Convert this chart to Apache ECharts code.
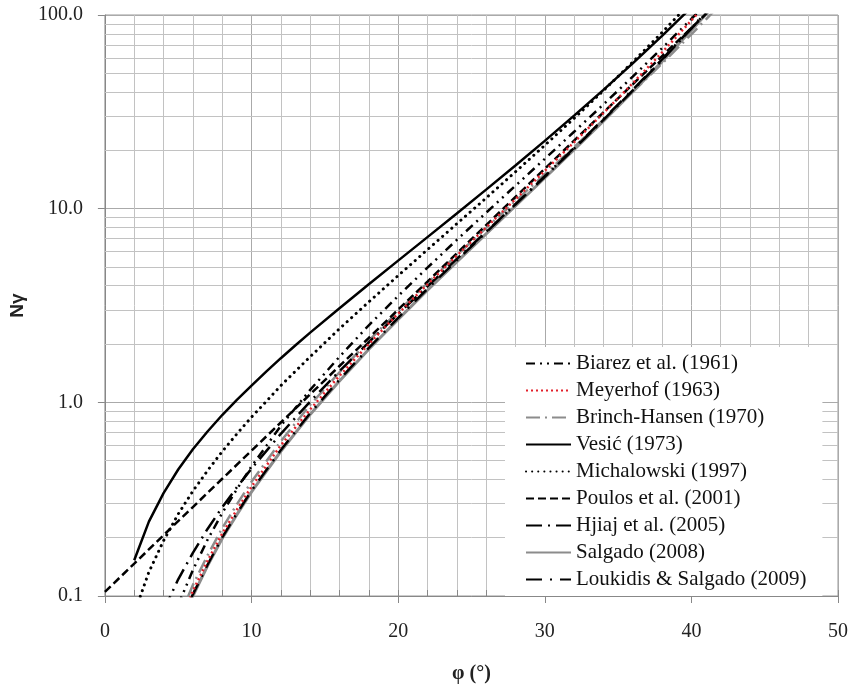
<!DOCTYPE html>
<html><head><meta charset="utf-8">
<script src="https://cdn.jsdelivr.net/npm/echarts@6/dist/echarts.min.js"></script>
<style>html,body{margin:0;padding:0;background:#fff}#c{width:851px;height:690px}</style>
</head><body><div id="c"></div><script>
// phi (degrees) grids
const phiA = [2,3,4,5,6,7,8,9,10,11,12,13,14,16,18,20,22,24,26,28,30,32,34,36,38,40];
const phiB = [5,6,7,8,9,10,12,14,16,18,20,22,24,26,28,30,32,34,36,38,40,41,42];
const phiH = [4,5,6,7,8,9,10,12,14,16,18,20,22,24,26,28,30,32,34,36,38,40,41];
const phiP = [0,2,4,6,8,10,12,14,16,18,20,22,24,26,28,30,32,34,36,38,40,42];

// N-gamma values
const vesic = [0.153,0.242,0.340,0.450,0.572,0.707,0.860,1.03,1.22,1.44,1.69,1.97,2.29,3.06,4.07,5.39,7.13,9.44,12.54,16.72,22.40,30.22,41.06,56.31,78.03,109.4];
const michalowski = [0.081,0.133,0.193,0.265,0.348,0.444,0.557,0.687,0.839,1.01,1.22,1.45,1.72,2.40,3.30,4.51,6.14,8.35,11.35,15.49,21.23,29.27,40.70,57.17,81.28,117.2];
const biarez = [0.090,0.136,0.195,0.268,0.356,0.467,0.756,1.16,1.72,2.50,3.54,4.96,6.90,9.53,13.13,18.08,24.95,34.52,48.06,67.40,95.45,114.1,136.7];
const meyerhof = [0.070,0.106,0.152,0.210,0.279,0.367,0.60,0.92,1.37,2.00,2.87,4.07,5.72,8.00,11.19,15.67,22.02,31.15,44.43,64.08,93.69,114.0,139.3];
const brinchHansen = [0.075,0.114,0.162,0.224,0.297,0.389,0.63,0.97,1.43,2.08,2.95,4.13,5.75,7.94,10.94,15.07,20.79,28.77,40.05,56.17,79.54,95.05,113.96];
const salgado = [0.066,0.100,0.143,0.198,0.263,0.345,0.559,0.866,1.29,1.88,2.68,3.79,5.31,7.41,10.32,14.40,20.14,28.32,40.14,57.47,83.33,100.9,122.7];
const loukidis = [0.067,0.102,0.145,0.201,0.267,0.350,0.568,0.880,1.31,1.91,2.73,3.86,5.41,7.55,10.54,14.70,20.60,29.00,41.15,59.03,85.72,103.9,126.8];
const hjiaj = [0.084,0.122,0.167,0.222,0.287,0.364,0.455,0.688,1.01,1.45,2.04,2.86,3.97,5.50,7.60,10.53,14.62,20.42,28.71,40.75,58.50,85.1,103.3];
const poulos = [0.105,0.147,0.206,0.288,0.403,0.563,0.787,1.10,1.54,2.15,3.01,4.20,5.88,8.22,11.49,16.06,22.45,31.39,43.88,61.35,85.77,119.9];

const names = ['Biarez et al. (1961)','Meyerhof (1963)','Brinch-Hansen (1970)','Vesić (1973)','Michalowski (1997)','Poulos et al. (2001)','Hjiaj et al. (2005)','Salgado (2008)','Loukidis & Salgado (2009)'];
const minorY = [0.2,0.3,0.4,0.5,0.6,0.7,0.8,0.9,2,3,4,5,6,7,8,9,20,30,40,50,60,70,80,90];

function mk(name, xs, ys, ls, z) {
  return { name, type:'line', data: xs.map((x,i)=>[x, ys[i]]), symbol:'none', showSymbol:false,
    smooth:false, clip:true, lineStyle: ls, itemStyle:{color: ls.color}, z: z||3 };
}

const chart = echarts.init(document.getElementById('c'), null, {renderer:'canvas'});
const serif = 'Liberation Serif';
chart.setOption({
  animation:false,
  backgroundColor:'#fff',
  grid:{left:100, right:13, top:15, bottom:94, show:true, borderColor:'#999', borderWidth:1},
  legend:{
    data:names, orient:'vertical', left:505, top:347, itemGap:6, itemWidth:45, itemHeight:20,
    backgroundColor:'#fff', padding:[6,16,6,20], z:50, zlevel:1,
    itemStyle:{opacity:0},
    textStyle:{fontFamily:serif, fontSize:21, color:'#111'}
  },
  xAxis:[
    {type:'value', min:0, max:50, interval:10,
     axisLine:{lineStyle:{color:'#888'}},
     axisTick:{length:7, lineStyle:{color:'#888'}},
     axisLabel:{margin:26, fontFamily:serif, fontSize:20, color:'#222'},
     splitLine:{show:true, lineStyle:{color:'#aaa'}},
     minorTick:{show:false, splitNumber:5},
     minorSplitLine:{show:true, lineStyle:{color:'#c2c2c2'}},
     name:'φ (°)', nameLocation:'middle', nameGap:68,
     nameTextStyle:{fontFamily:serif, fontWeight:'bold', fontSize:20, color:'#222'}},
    {type:'value', min:0, max:50, interval:2, position:'bottom', gridIndex:0,
     axisLine:{show:false}, axisTick:{show:true, inside:true, length:6, lineStyle:{color:'#888'}},
     axisLabel:{show:false}, splitLine:{show:false}}
  ],
  yAxis:{type:'log', logBase:10, min:0.1, max:100,
    axisLine:{show:true, lineStyle:{color:'#888'}},
    axisTick:{show:true, length:7, lineStyle:{color:'#888'}},
    axisLabel:{margin:22, fontFamily:serif, fontSize:20, color:'#222', formatter:v=>Number(v).toFixed(1)},
    splitLine:{show:true, lineStyle:{color:'#aaa'}},
    name:'Nγ', nameLocation:'middle', nameGap:56,
    nameTextStyle:{fontFamily:'Liberation Sans', fontWeight:'bold', fontSize:19, color:'#222'}},
  series:[
    {type:'line', data:[], silent:true, z:1,
     markLine:{silent:true, symbol:['none','none'], label:{show:false}, animation:false, z:1,
       lineStyle:{color:'#c2c2c2', width:1, type:'solid'},
       data:minorY.map(v=>({yAxis:v}))}},
    mk(names[0], phiB, biarez, {color:'#000', width:2.5, type:[9,5,2,5,2,5]}),
    mk(names[1], phiB, meyerhof, {color:'#e3202b', width:2.5, type:[2,3]}, 5),
    mk(names[2], phiB, brinchHansen, {color:'#8c8c8c', width:2.5, type:[14,5,2,5]}),
    mk(names[3], phiA, vesic, {color:'#000', width:2.5, type:'solid'}),
    mk(names[4], phiA, michalowski, {color:'#000', width:3, type:[0.1,6], cap:'round'}),
    mk(names[5], phiP, poulos, {color:'#000', width:2.5, type:[8,4]}),
    mk(names[6], phiH, hjiaj, {color:'#000', width:2.5, type:[16,6,2,6]}),
    mk(names[7], phiB, salgado, {color:'#8c8c8c', width:3, type:'solid'}, 2),
    mk(names[8], phiB, loukidis, {color:'#000', width:2.5, type:[16,8,2,8]})
  ]
});
</script></body></html>
